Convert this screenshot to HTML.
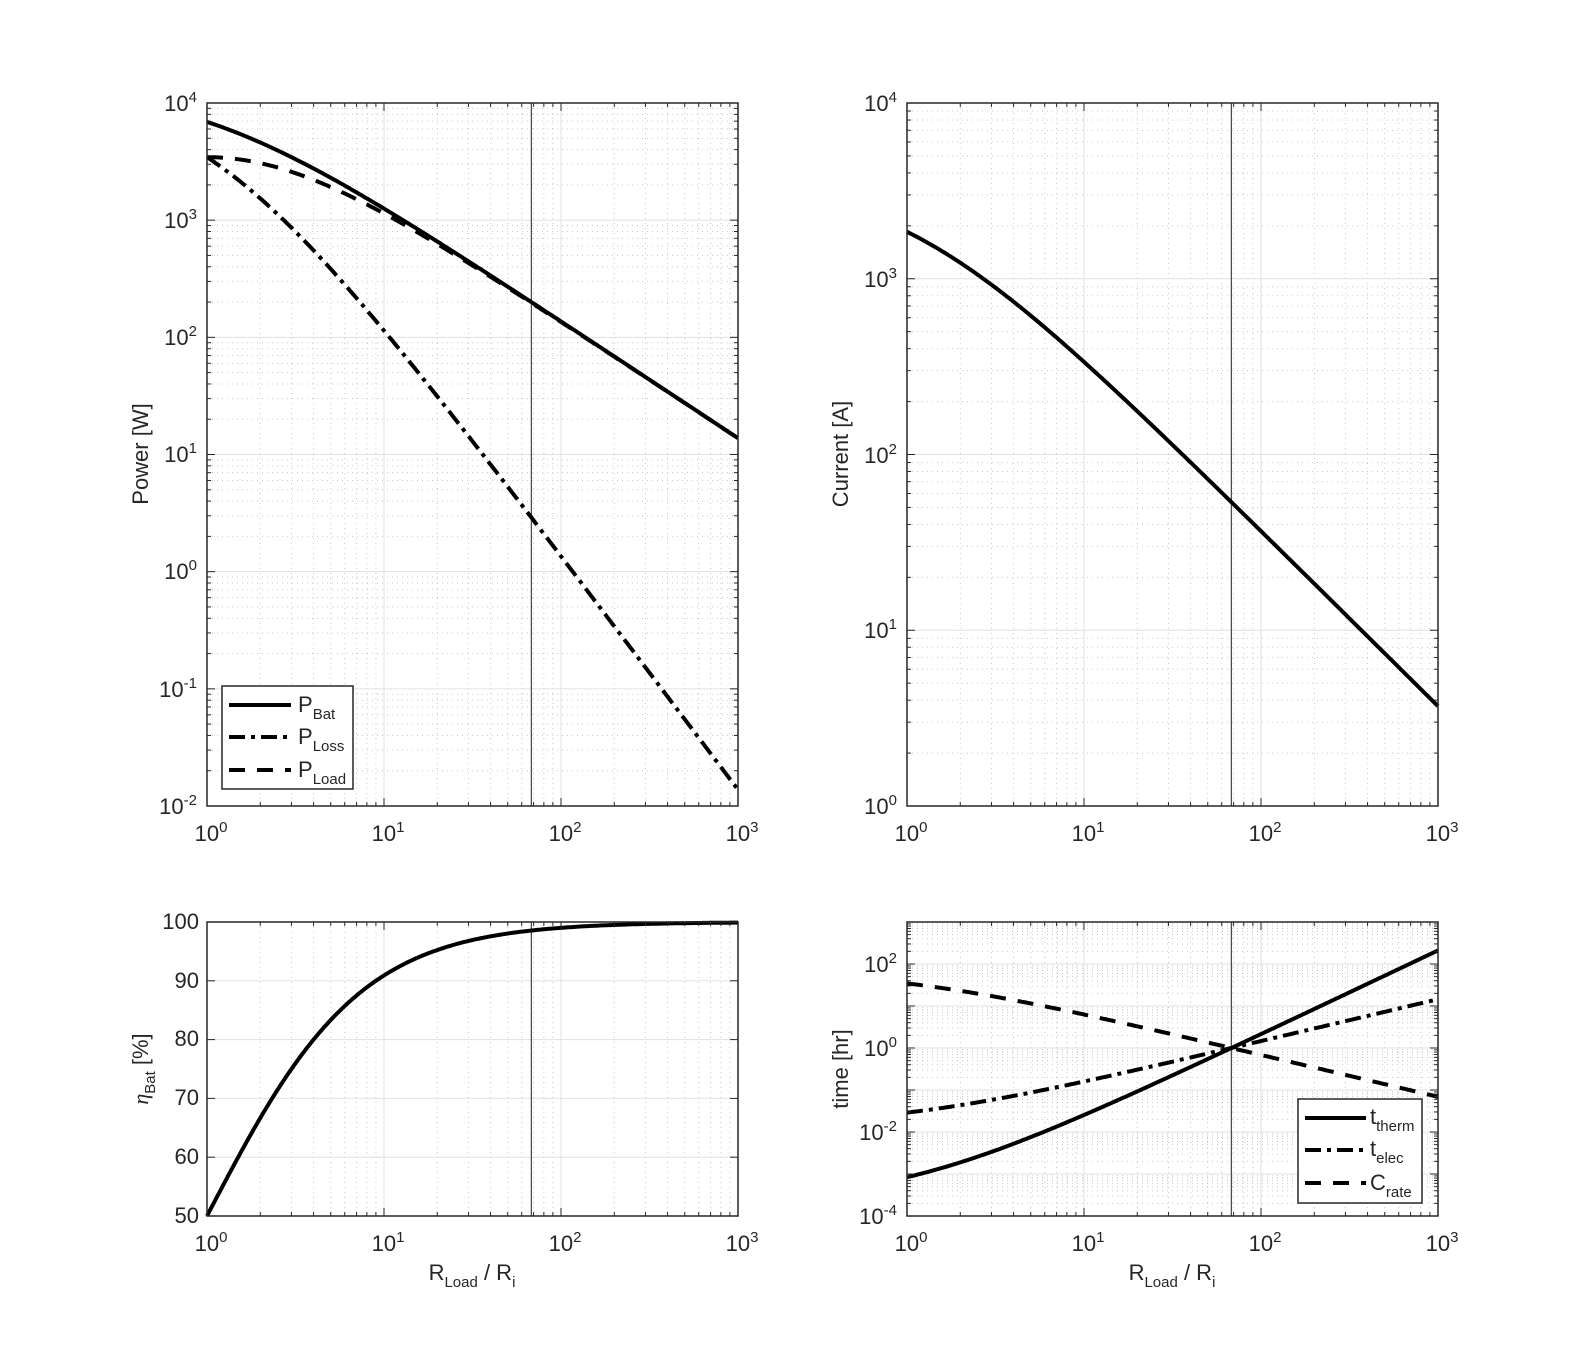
<!DOCTYPE html>
<html><head><meta charset="utf-8"><style>
body{margin:0;background:#fff}
svg{display:block;font-family:"Liberation Sans",sans-serif;fill:#262626}
text{font-size:22px}
.sup{font-size:15px}
.sub{font-size:15px}
</style></head><body>
<svg id="s" width="1590" height="1367" viewBox="0 0 1590 1367" xmlns="http://www.w3.org/2000/svg">
<g id="grids"></g>
<g id="curves"></g>
<g id="frames"></g>
<g text-anchor="end">
<text x="197" y="111">10<tspan class="sup" dy="-9">4</tspan></text>
<text x="197" y="228">10<tspan class="sup" dy="-9">3</tspan></text>
<text x="197" y="345">10<tspan class="sup" dy="-9">2</tspan></text>
<text x="197" y="462">10<tspan class="sup" dy="-9">1</tspan></text>
<text x="197" y="579">10<tspan class="sup" dy="-9">0</tspan></text>
<text x="197" y="697">10<tspan class="sup" dy="-9">-1</tspan></text>
<text x="197" y="814">10<tspan class="sup" dy="-9">-2</tspan></text>
<text x="897" y="111">10<tspan class="sup" dy="-9">4</tspan></text>
<text x="897" y="287">10<tspan class="sup" dy="-9">3</tspan></text>
<text x="897" y="463">10<tspan class="sup" dy="-9">2</tspan></text>
<text x="897" y="638">10<tspan class="sup" dy="-9">1</tspan></text>
<text x="897" y="814">10<tspan class="sup" dy="-9">0</tspan></text>
<text x="199" y="929">100</text>
<text x="199" y="988">90</text>
<text x="199" y="1046">80</text>
<text x="199" y="1105">70</text>
<text x="199" y="1164">60</text>
<text x="199" y="1223">50</text>
<text x="897" y="972">10<tspan class="sup" dy="-9">2</tspan></text>
<text x="897" y="1056">10<tspan class="sup" dy="-9">0</tspan></text>
<text x="897" y="1140">10<tspan class="sup" dy="-9">-2</tspan></text>
<text x="897" y="1224">10<tspan class="sup" dy="-9">-4</tspan></text>
</g>
<g text-anchor="middle">
<text x="211" y="841">10<tspan class="sup" dy="-9">0</tspan></text>
<text x="388" y="841">10<tspan class="sup" dy="-9">1</tspan></text>
<text x="565" y="841">10<tspan class="sup" dy="-9">2</tspan></text>
<text x="742" y="841">10<tspan class="sup" dy="-9">3</tspan></text>
<text x="911" y="841">10<tspan class="sup" dy="-9">0</tspan></text>
<text x="1088" y="841">10<tspan class="sup" dy="-9">1</tspan></text>
<text x="1265" y="841">10<tspan class="sup" dy="-9">2</tspan></text>
<text x="1442" y="841">10<tspan class="sup" dy="-9">3</tspan></text>
<text x="211" y="1251">10<tspan class="sup" dy="-9">0</tspan></text>
<text x="388" y="1251">10<tspan class="sup" dy="-9">1</tspan></text>
<text x="565" y="1251">10<tspan class="sup" dy="-9">2</tspan></text>
<text x="742" y="1251">10<tspan class="sup" dy="-9">3</tspan></text>
<text x="911" y="1251">10<tspan class="sup" dy="-9">0</tspan></text>
<text x="1088" y="1251">10<tspan class="sup" dy="-9">1</tspan></text>
<text x="1265" y="1251">10<tspan class="sup" dy="-9">2</tspan></text>
<text x="1442" y="1251">10<tspan class="sup" dy="-9">3</tspan></text>
<text x="472" y="1280">R<tspan class="sub" dy="7">Load</tspan><tspan dy="-7"> / R</tspan><tspan class="sub" dy="7">i</tspan></text>
<text x="1172" y="1280">R<tspan class="sub" dy="7">Load</tspan><tspan dy="-7"> / R</tspan><tspan class="sub" dy="7">i</tspan></text>
<text transform="translate(148,454) rotate(-90)">Power [W]</text>
<text transform="translate(848,454) rotate(-90)">Current [A]</text>
<text transform="translate(148,1069) rotate(-90)"><tspan font-family="Liberation Serif" font-style="italic">η</tspan><tspan class="sub" dy="7">Bat</tspan><tspan dy="-7"> [%]</tspan></text>
<text transform="translate(848,1069) rotate(-90)">time [hr]</text>
</g>
<rect x="222" y="686" width="131" height="103" fill="#fff" stroke="#262626" stroke-width="1.5"/>
<g stroke="#000" stroke-width="4">
<line x1="229" y1="705" x2="291" y2="705"/>
<line x1="229" y1="737" x2="291" y2="737" stroke-dasharray="16,6,4,6"/>
<line x1="229" y1="770" x2="291" y2="770" stroke-dasharray="16,12"/>
</g>
<text x="298" y="712">P<tspan class="sub" dy="7">Bat</tspan></text>
<text x="298" y="744">P<tspan class="sub" dy="7">Loss</tspan></text>
<text x="298" y="777">P<tspan class="sub" dy="7">Load</tspan></text>
<rect x="1298" y="1099" width="124" height="104" fill="#fff" stroke="#262626" stroke-width="1.5"/>
<g stroke="#000" stroke-width="4">
<line x1="1305" y1="1118" x2="1366" y2="1118"/>
<line x1="1305" y1="1150" x2="1366" y2="1150" stroke-dasharray="16,6,4,6"/>
<line x1="1305" y1="1183" x2="1366" y2="1183" stroke-dasharray="16,12"/>
</g>
<text x="1370" y="1124">t<tspan class="sub" dy="7">therm</tspan></text>
<text x="1370" y="1156">t<tspan class="sub" dy="7">elec</tspan></text>
<text x="1370" y="1190">C<tspan class="sub" dy="7">rate</tspan></text>
</svg>
<script>
var NS="http://www.w3.org/2000/svg";
function el(p,t,a){var e=document.createElementNS(NS,t);for(var k in a)e.setAttribute(k,a[k]);p.appendChild(e);return e;}
var G=document.getElementById('grids'),C=document.getElementById('curves'),F=document.getElementById('frames');
var ax=[
 {x0:207,x1:738,y0:103,y1:806,log:true,ymin:-2,ymax:4},
 {x0:907,x1:1438,y0:103,y1:806,log:true,ymin:0,ymax:4},
 {x0:207,x1:738,y0:922,y1:1216,log:false,ymin:50,ymax:100},
 {x0:907,x1:1438,y0:922,y1:1216,log:true,ymin:-4,ymax:3}];
function X(a,r){return a.x0+Math.log10(r)/3*(a.x1-a.x0);}
function Y(a,v){var t=a.log?Math.log10(v):v;return a.y1-(t-a.ymin)/(a.ymax-a.ymin)*(a.y1-a.y0);}
ax.forEach(function(a){
 for(var d=0;d<3;d++)for(var m=1;m<10;m++){var x=X(a,Math.pow(10,d)*m);
  if(m==1){if(d>0)el(G,'line',{x1:x,x2:x,y1:a.y0,y2:a.y1,stroke:'#e0e0e0','stroke-width':1});}
  else el(G,'line',{x1:x,x2:x,y1:a.y0,y2:a.y1,stroke:'#c8c8c8','stroke-width':1,'stroke-dasharray':'1,4'});
  var L=m==1?8:4; el(F,'line',{x1:x,x2:x,y1:a.y1,y2:a.y1-L,stroke:'#262626','stroke-width':1});el(F,'line',{x1:x,x2:x,y1:a.y0,y2:a.y0+L,stroke:'#262626','stroke-width':1});}
 if(a.log){for(var e=a.ymin;e<a.ymax;e++)for(var m=1;m<10;m++){var y=Y(a,Math.pow(10,e)*m);
  if(m==1){if(e>a.ymin)el(G,'line',{x1:a.x0,x2:a.x1,y1:y,y2:y,stroke:'#e0e0e0','stroke-width':1});}
  else el(G,'line',{x1:a.x0,x2:a.x1,y1:y,y2:y,stroke:'#c8c8c8','stroke-width':1,'stroke-dasharray':'1,4'});
  var L=m==1?8:4;el(F,'line',{x1:a.x0,x2:a.x0+L,y1:y,y2:y,stroke:'#262626','stroke-width':1});el(F,'line',{x1:a.x1,x2:a.x1-L,y1:y,y2:y,stroke:'#262626','stroke-width':1});}}
 else{for(var v=60;v<100;v+=10){var y=Y(a,v);el(G,'line',{x1:a.x0,x2:a.x1,y1:y,y2:y,stroke:'#e0e0e0','stroke-width':1});}
  for(var v=50;v<=100;v+=10){var y=Y(a,v);el(F,'line',{x1:a.x0,x2:a.x0+8,y1:y,y2:y,stroke:'#262626'});el(F,'line',{x1:a.x1,x2:a.x1-8,y1:y,y2:y,stroke:'#262626'});}}
 var vx=X(a,68);el(G,'line',{x1:vx,x2:vx,y1:a.y0,y2:a.y1,stroke:'#444','stroke-width':1.2});
 el(F,'rect',{x:a.x0,y:a.y0,width:a.x1-a.x0,height:a.y1-a.y0,fill:'none',stroke:'#262626','stroke-width':1.5});
});
function curve(a,f,dash){var p=[];for(var i=0;i<=300;i++){var r=Math.pow(10,3*i/300);p.push(X(a,r).toFixed(1)+','+Y(a,f(r)).toFixed(1));}
 var o={points:p.join(' '),fill:'none',stroke:'#000','stroke-width':4};if(dash)o['stroke-dasharray']=dash;el(C,'polyline',o);}
var V2=13800,VI=3700,DD='16,6,4,6',DA='16,12';
curve(ax[0],function(r){return V2/(1+r);});
curve(ax[0],function(r){return V2/((1+r)*(1+r));},DD);
curve(ax[0],function(r){return V2*r/((1+r)*(1+r));},DA);
curve(ax[1],function(r){return VI/(1+r);});
curve(ax[2],function(r){return 100*r/(1+r);});
curve(ax[3],function(r){var q=(1+r)/69;return q*q;});
curve(ax[3],function(r){return (1+r)/69;},DD);
curve(ax[3],function(r){return 69/(1+r);},DA);
</script>
</body></html>
